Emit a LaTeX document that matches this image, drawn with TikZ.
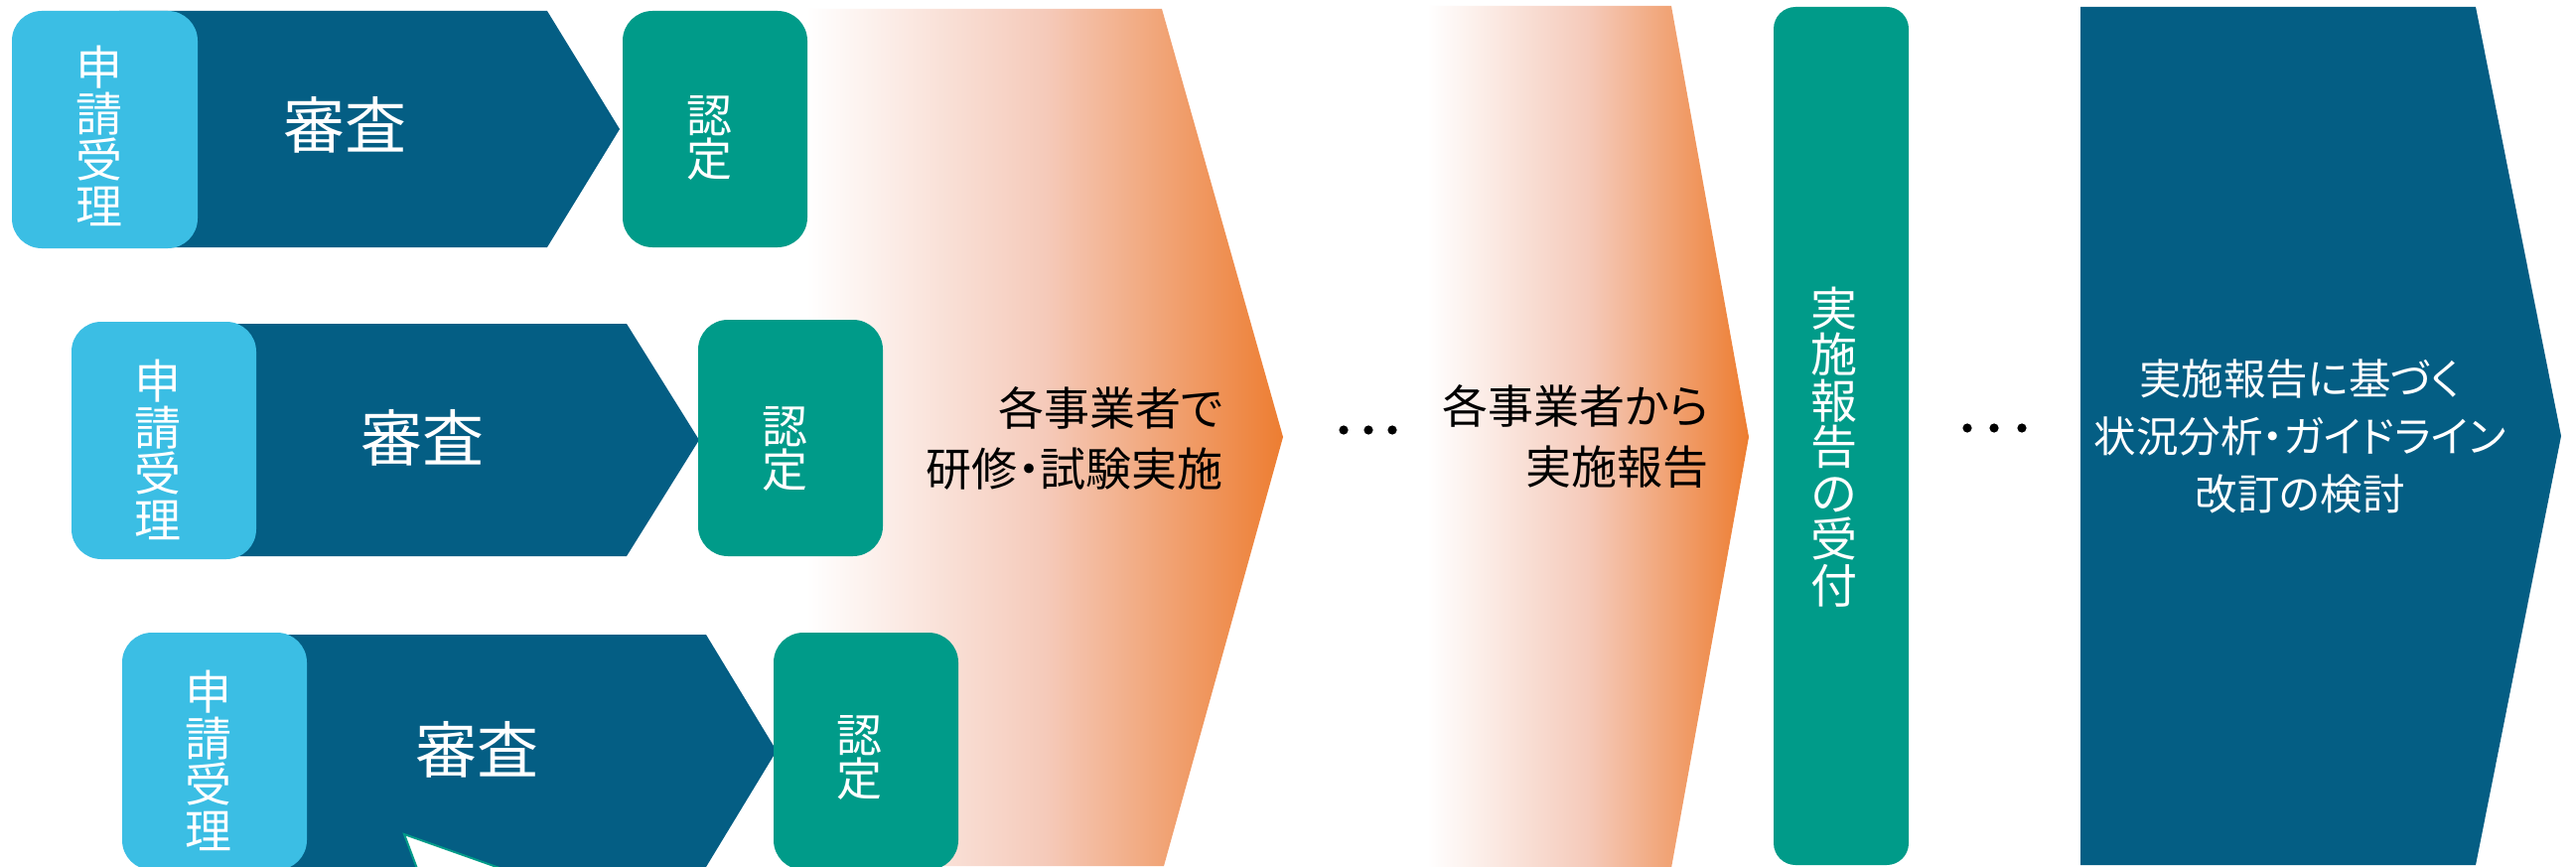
\documentclass[tikz,border=0pt]{standalone}
\usepackage{fontspec}
\setmainfont{Noto Sans CJK JP}[RawFeature=+palt]
\definecolor{lblue}{RGB}{59,190,228}
\definecolor{dblue}{RGB}{4,94,132}
\definecolor{tealc}{RGB}{0,155,137}
\definecolor{orangec}{RGB}{237,125,49}
\definecolor{pinkmid}{RGB}{245,202,186}
\begin{document}
\begin{tikzpicture}[x=0.5pt,y=-0.5pt,
  lbbox/.style={fill=lblue, rounded corners=15pt},
  gbbox/.style={fill=tealc, rounded corners=15pt},
  chev/.style={fill=dblue},
  ochev/.style={left color=white, right color=orangec, middle color=pinkmid},
  wtxt/.style={text=white, inner sep=0pt, align=center},
  btxt/.style={text=black, inner sep=0pt},
  vlab/.style={wtxt, font=\fontsize{23.5}{23.25}\selectfont},
  certlab/.style={wtxt, font=\fontsize{23}{22}\selectfont},
  revlab/.style={wtxt, font=\fontsize{31}{31}\selectfont},
  olab/.style={btxt, align=right, anchor=east, font=\fontsize{23}{30.5}\selectfont},
  dotc/.style={circle, fill=black, inner sep=0pt, minimum size=4.6pt}
]
\useasboundingbox (0,0) rectangle (2594,872);
\fill[white] (0,0) rectangle (2594,872);
\clip (0,0) rectangle (2594,872);

% orange gradient chevrons
\shade[ochev] (812,9) -- (1170,9) -- (1292,440) -- (1172,872) -- (812,872) -- cycle;
\shade[ochev] (1437,6) -- (1683,6) -- (1761,440) -- (1683,874) -- (1437,874) -- cycle;

% dark chevrons
\fill[chev] (120,11) -- (551,11) -- (624,130) -- (551,249) -- (120,249) -- cycle;
\fill[chev] (180,326) -- (631,326) -- (704,443) -- (631,560) -- (180,560) -- cycle;
\fill[chev] (230,639) -- (711,639) -- (782,756) -- (711,873) -- (230,873) -- cycle;

% light blue boxes
\fill[lbbox] (12,11) rectangle (199,250);
\fill[lbbox] (72,324) rectangle (258,563);
\fill[lbbox] (123,637) rectangle (309,876);

% green boxes
\fill[gbbox] (627,11) rectangle (813,249);
\fill[gbbox] (703,322) rectangle (889,560);
\fill[gbbox] (779,637) rectangle (965,876);

% white callout tip
\draw[tealc, line width=1pt, fill=white] (407,840) -- (520,880) -- (422,880) -- cycle;

% reception box and final chevron
\fill[tealc, rounded corners=11pt] (1786,7) rectangle (1922,871);
\fill[chev] (2095,7) -- (2493,7) -- (2579,439) -- (2493,871) -- (2095,871) -- cycle;

% texts
\node[vlab] (app1) at (100,137) {申\\請\\受\\理};
\node[vlab] (app2) at (159,453) {申\\請\\受\\理};
\node[vlab] (app3) at (210,766) {申\\請\\受\\理};

\node[revlab] (rev1) at (347,126) {審査};
\node[revlab] (rev2) at (425,441) {審査};
\node[revlab] (rev3) at (480,755) {審査};

\node[certlab] (cert1) at (714,139) {認\\定};
\node[certlab] (cert2) at (790,452) {認\\定};
\node[certlab] (cert3) at (865,763) {認\\定};

\node[olab] (train) at (1232,441) {各事業者で\\研修・試験実施};
\node[olab] (report) at (1721,440) {各事業者から\\実施報告};

\node[dotc] (da1) at (1353,433) {};
\node[dotc] (da2) at (1378,433) {};
\node[dotc] (da3) at (1402,433) {};

\node[vlab] (recv) at (1847,450) {実\\施\\報\\告\\の\\受\\付};

\node[dotc] (db1) at (1981,431) {};
\node[dotc] (db2) at (2008,431) {};
\node[dotc] (db3) at (2036,431) {};

\node[wtxt, font=\fontsize{21.25}{29}\selectfont] (review) at (2316,439) {実施報告に基づく\\状況分析・ガイドライン\\改訂の検討};
\end{tikzpicture}
\end{document}
